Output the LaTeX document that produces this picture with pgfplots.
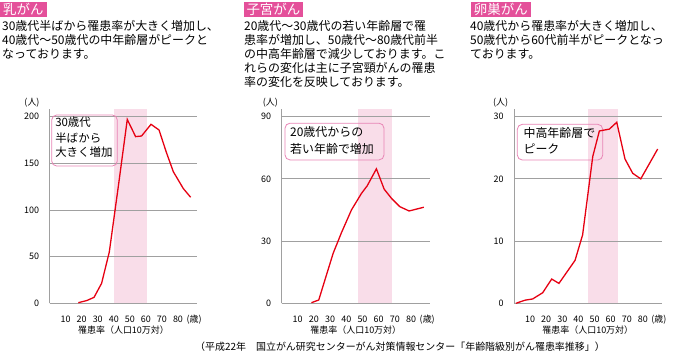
\documentclass[border=0pt]{standalone}
\usepackage{fontspec}
\setmainfont{Noto Sans CJK JP}
\usepackage{pgfplots}
\pgfplotsset{compat=1.18}
\definecolor{lred}{HTML}{E60012}
\definecolor{gridgray}{HTML}{A0A0A0}
\definecolor{bandpink}{HTML}{F9DDE9}
\definecolor{headpink}{HTML}{E4509A}
\definecolor{boxpink}{HTML}{E884B5}
\newcommand{\fs}[1]{\fontsize{#1}{#1}\selectfont}
\pgfplotsset{myax/.style={
  scale only axis, anchor=south west, xmin=0, ymin=0,
  axis lines=left, axis line style={-, draw=gridgray, line width=0.9bp},
  ymajorgrids, grid style={draw=gridgray, line width=0.9bp},
  major tick length=0pt,
  xtick={10,20,...,90}, xticklabels={10,20,30,40,50,60,70,80,(歳)},
  tick label style={font=\fs{9}},
  /pgf/number format/assume math mode=true,
  xticklabel style={anchor=base, yshift=-18.7bp},
  yticklabel style={anchor=base east, xshift=-7bp, yshift=-3.3bp},
  set layers, clip=false,
}}
\begin{document}
\begin{tikzpicture}
% headers
\node[fill=headpink, text=white, anchor=base west, inner xsep=3bp, inner ysep=0.5bp, text height=11.5bp, text depth=2.5bp, font=\fs{13.5}] at (0bp,-14bp) {乳がん};
\node[fill=headpink, text=white, anchor=base west, inner xsep=3bp, inner ysep=0.5bp, text height=11.5bp, text depth=2.5bp, font=\fs{13.5}] at (243.3bp,-14bp) {子宮がん};
\node[fill=headpink, text=white, anchor=base west, inner xsep=3bp, inner ysep=0.5bp, text height=11.5bp, text depth=2.5bp, font=\fs{13.5}] at (470.7bp,-14bp) {卵巣がん};
% descriptions
\begin{scope}[every node/.style={anchor=base west, inner sep=0pt, font=\fs{12}}]
\node at (2bp,-30.3bp) {30歳代半ばから罹患率が大きく増加し、};
\node at (2bp,-44.3bp) {40歳代〜50歳代の中年齢層がピークと};
\node at (2bp,-58.3bp) {なっております。};
\node at (244bp,-30.3bp) {20歳代〜30歳代の若い年齢層で罹};
\node at (244bp,-44.3bp) {患率が増加し、50歳代〜80歳代前半};
\node at (244bp,-58.3bp) {の中高年齢層で減少しております。こ};
\node at (244bp,-72.3bp) {れらの変化は主に子宮頸がんの罹患};
\node at (244bp,-86.3bp) {率の変化を反映しております。};
\node at (470bp,-30.3bp) {40歳代から罹患率が大きく増加し、};
\node at (470bp,-44.3bp) {50歳代から60代前半がピークとなっ};
\node at (470bp,-58.3bp) {ております。};
\end{scope}
% unit labels
\begin{scope}[every node/.style={anchor=base, inner sep=0pt, font=\fs{9}}]
\node at (32bp,-105bp) {(人)};
\node at (270.3bp,-105bp) {(人)};
\node at (500.7bp,-105bp) {(人)};
\node at (123.5bp,-333bp) {罹患率（人口10万対）};
\node at (355.8bp,-333bp) {罹患率（人口10万対）};
\node at (587.8bp,-333bp) {罹患率（人口10万対）};
\node[font=\fs{10}] at (400bp,-350.3bp) {（平成22年　国立がん研究センターがん対策情報センター「年齢階級別がん罹患率推移」）};
\end{scope}

% chart 1
\begin{axis}[myax, at={(49.6bp,-303.3bp)}, width=147bp, height=194.1bp,
  xmax=91.6, ymax=208, ytick={0,50,100,150,200}]
\addplot[fill=bandpink, draw=none, on layer=axis background] coordinates {(40,0) (40,208) (60.5,208) (60.5,0)};
\draw[boxpink, line width=0.8bp, rounded corners=5bp] (axis cs:1.3,201.8) rectangle (axis cs:42.2,147.1);
\node[anchor=base west, inner sep=0pt, font=\fs{11.5}] at (axis cs:3.4,189.4) {30歳代};
\node[anchor=base west, inner sep=0pt, font=\fs{11.5}] at (axis cs:3.4,172.8) {半ばから};
\node[anchor=base west, inner sep=0pt, font=\fs{11.5}] at (axis cs:3.4,156.8) {大きく増加};
\addplot[lred, line width=1.3bp, mark=none] coordinates {
(17.9,0.7) (23.1,2.9) (27.7,6.4) (32.4,21.4) (37.2,55) (42.8,125) (48.4,197)
(53.6,178.6) (57.3,179.3) (63.2,191.8) (68.2,185.7) (72.7,162) (77.1,141)
(83.3,123) (87.9,113.6)};
\end{axis}

% chart 2
\begin{axis}[myax, at={(281.5bp,-303.3bp)}, width=148.5bp, height=194bp,
  xmax=91.7, ymax=93.5, ytick={0,30,60,90}]
\addplot[fill=bandpink, draw=none, on layer=axis background] coordinates {(47,0) (47,93.5) (68,93.5) (68,0)};
\draw[boxpink, line width=0.8bp, rounded corners=5bp] (axis cs:2.16,86.8) rectangle (axis cs:63.3,69.1);
\node[anchor=base west, inner sep=0pt, font=\fs{12}] at (axis cs:5.25,80.2) {20歳代からの};
\node[anchor=base west, inner sep=0pt, font=\fs{12}] at (axis cs:5.25,72.2) {若い年齢で増加};
\addplot[lred, line width=1.3bp, mark=none] coordinates {
(18.5,0.3) (23,1.6) (27.5,13) (31.9,24.1) (37,34) (43.2,45) (49.4,53) (52.9,56.6)
(58.6,64.8) (63.4,55) (67.9,50.6) (73,46.6) (78.8,44.5) (87.9,46.3)};
\end{axis}

% chart 3
\begin{axis}[myax, at={(514bp,-303.3bp)}, width=147.7bp, height=194.1bp,
  xmax=91.7, ymax=31.2, ytick={0,10,20,30}]
\addplot[fill=bandpink, draw=none, on layer=axis background] coordinates {(46,0) (46,31.2) (64.8,31.2) (64.8,0)};
\draw[boxpink, line width=0.8bp, rounded corners=5bp] (axis cs:2.05,28.77) rectangle (axis cs:55.1,23.03);
\node[anchor=base west, inner sep=0pt, font=\fs{12}] at (axis cs:5.8,26.73) {中高年齢層で};
\node[anchor=base west, inner sep=0pt, font=\fs{12}] at (axis cs:5.8,24.08) {ピーク};
\addplot[lred, line width=1.3bp, mark=none] coordinates {
(1.2,0) (6.8,0.5) (11.6,0.7) (17.8,1.7) (23.4,3.9) (27.9,3.2) (37.9,6.9) (42.6,11.0)
(48.9,23.6) (53,27.7) (59.2,28.0) (63.8,29.1) (68.9,23.2) (73.7,20.9) (78.7,20.0) (89.2,24.8)};
\end{axis}

\pgfresetboundingbox
\useasboundingbox (0bp,0bp) rectangle (673bp,-362bp);
\end{tikzpicture}
\end{document}
